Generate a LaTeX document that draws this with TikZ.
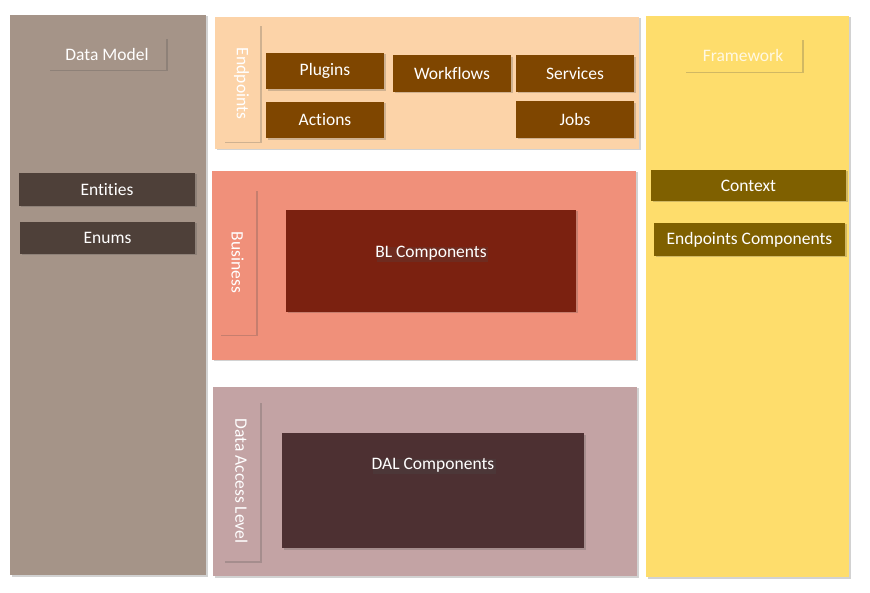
\documentclass[tikz,border=0pt]{standalone}
\usepackage{fontspec}
\usepackage{graphicx}
\setmainfont{Carlito}[Ligatures=NoCommon]
\usetikzlibrary{shadows}
\definecolor{modelgray}{HTML}{A59488}
\definecolor{modeldark}{HTML}{4E4039}
\definecolor{endpeach}{HTML}{FCD3A8}
\definecolor{endbrown}{HTML}{7F4600}
\definecolor{bizsalmon}{HTML}{F0907A}
\definecolor{bizred}{HTML}{7B2110}
\definecolor{dalrose}{HTML}{C3A3A4}
\definecolor{daldark}{HTML}{4D3032}
\definecolor{fwyellow}{HTML}{FEDD6C}
\definecolor{fwolive}{HTML}{7F6000}
\newcommand{\sidetext}[1]{\rotatebox{-90}{#1}}
\begin{document}
\begin{tikzpicture}[
				x=1pt,y=-1pt,
				every node/.style={
						font=\fontsize{17.5}{20}\selectfont,
						text=white,
						inner sep=0pt,
						drop shadow={shadow xshift=1.5pt,shadow yshift=-1.5pt,opacity=0.25,fill=black!70},
					},
				block/.style={rectangle,minimum width=#1},
				sidelabel/.style={rectangle,minimum width=37pt,minimum height=#1},]
			\useasboundingbox (0,0) rectangle (870,593);
			% columns and layers
			\node[block=196pt,minimum height=560pt,fill=modelgray] (model) at (108,295) {};
			\node[block=424pt,minimum height=132pt,fill=endpeach] (endpoints) at (427,83) {};
			\node[block=424pt,minimum height=189pt,fill=bizsalmon] (business) at (424,265.5) {};
			\node[block=424pt,minimum height=189pt,fill=dalrose] (dal) at (425,481.5) {};
			\node[block=203pt,minimum height=561pt,fill=fwyellow] (framework) at (747.5,296.5) {};
			% titles
			\node[block=118pt,minimum height=32pt,fill=modelgray] (modeltitle) at (107,54) {Data Model};
			\node[block=118pt,minimum height=33pt,fill=fwyellow,text=white!80!fwyellow] (fwtitle) at (743,55.5) {Framework};
			\node[sidelabel=117pt,fill=endpeach] (endtitle) at (241.5,83.5) {\sidetext{Endpoints}};
			\node[sidelabel=145pt,fill=bizsalmon] (biztitle) at (237.5,262.5) {\sidetext{Business}};
			\node[sidelabel=160pt,fill=dalrose] (daltitle) at (241.5,481) {\sidetext{Data Access Level}};
			% data model
			\node[block=176pt,minimum height=33pt,fill=modeldark] (entities) at (107,189.5) {Entities};
			\node[block=175pt,minimum height=32pt,fill=modeldark] (enums) at (107.5,238) {Enums};
			% endpoints
			\foreach \name/\txt/\x/\y in {plugins/Plugins/325/71,workflows/Workflows/452/73.5,
					services/Services/575/73.5,actions/Actions/325/120,jobs/Jobs/575/119.5} {
					\node[block=118pt,minimum height=36.5pt,fill=endbrown] (\name) at (\x,\y) {\txt};
				}
			% components
			\node[block=290pt,minimum height=102pt,fill=bizred,
				label={[yshift=8pt,drop shadow={opacity=0}]center:BL Components}] (blcomp) at (431,261) {};
			\node[block=302pt,minimum height=115pt,fill=daldark,
				label={[yshift=25.5pt,drop shadow={opacity=0}]center:DAL Components}] (dalcomp) at (433,490.5) {};
			% framework
			\node[block=195pt,minimum height=31pt,fill=fwolive] (context) at (748.5,185.5) {Context};
			\node[block=191pt,minimum height=33pt,fill=fwolive] (epcomp) at (749.5,239.5) {Endpoints Components};
		\end{tikzpicture}
\end{document}
